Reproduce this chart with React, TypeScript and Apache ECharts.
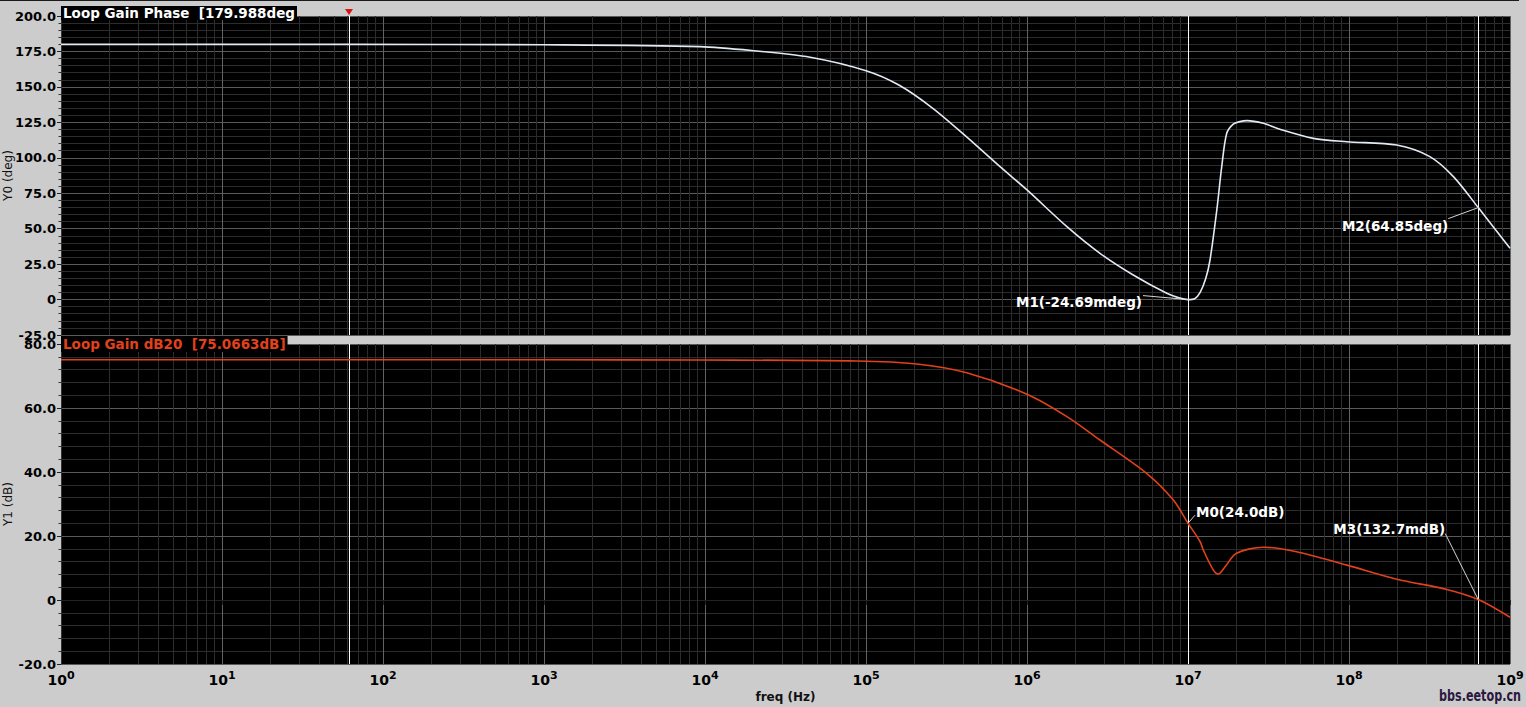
import React, { useEffect, useRef } from 'react';
import * as echarts from 'echarts';

// ---------- data ----------
const phaseFreq = [1, 61.5, 1e3, 9.3e3, 2.0e4, 4.5e4, 1.0e5, 1.6e5, 2.6e5, 4.2e5, 6.8e5, 1.0e6, 1.77e6, 2.84e6, 4.57e6, 7.38e6, 8.9e6, 1.0e7, 1.1e7, 1.19e7, 1.29e7, 1.37e7, 1.51e7, 1.62e7, 1.74e7, 1.91e7, 2.1e7, 2.32e7, 2.94e7, 3.72e7, 6.0e7, 9.7e7, 1.98e8, 3.18e8, 4.45e8, 6.35e8, 1e9];
const phaseDeg = [180.0, 179.988, 179.7, 178.4, 175.5, 170.9, 161.4, 151.3, 134.9, 114.9, 93.7, 77.3, 51.4, 32.6, 17.3, 4.4, 1.0, -0.025, 0.6, 5, 15, 27.9, 63.2, 93.7, 117.3, 123.8, 125.5, 126.2, 124.3, 120.1, 113.7, 111.3, 109, 100.8, 86.7, 64.85, 36.2];

const gainFreq = [1, 61.5, 1e3, 9.3e3, 8.75e4, 2.07e5, 4.22e5, 1.0e6, 1.77e6, 2.84e6, 5.53e6, 8.11e6, 1.0e7, 1.19e7, 1.245e7, 1.435e7, 1.54e7, 1.7e7, 2.0e7, 2.94e7, 4.73e7, 9.7e7, 1.98e8, 4.05e8, 6.35e8, 1e9];
const gainDb = [75.07, 75.0663, 75.06, 75.0, 74.7, 73.75, 71.0, 64.3, 57.3, 50.0, 39.6, 31.25, 24.0, 18.2, 15.6, 9.4, 8.1, 10.4, 14.6, 16.5, 15.1, 10.9, 6.5, 3.3, 0.1327, -5.4];

const cursorFreqs = [61.5, 1e7, 6.35e8];

const markerText = ['M0(24.0dB)', 'M1(-24.69mdeg)', 'M2(64.85deg)', 'M3(132.7mdB)'];
const markerFreq = [1e7, 1e7, 6.35e8, 6.35e8];
const markerVal = [24.0, -0.02469, 64.85, 0.1327];
const markerGrid = [1, 0, 0, 1];

const phaseLegend = 'Loop Gain Phase  [179.988deg';
const gainLegend = 'Loop Gain dB20  [75.0663dB]';

// ---------- style ----------
const FONT = 'DejaVu Sans';
const BG = '#cccccc';
const PHASE_COLOR = '#e2eaf4';
const GAIN_COLOR = '#e2411c';
const MAJOR = '#626262';
const MINOR = '#2c2c2c';

// label placement (styling offsets relative to marker point)
const markerPlace = [
  { dx: 8, dy: -4, align: 'left', va: 'bottom', lx: 7, ly: -8 },
  { dx: -46, dy: 2, align: 'right', va: 'middle', lx: -45, ly: -4 },
  { dx: -30, dy: 11, align: 'right', va: 'top', lx: -30, ly: 11 },
  { dx: -33, dy: -64, align: 'right', va: 'bottom', lx: -33, ly: -66 },
];

const minorFreqs: number[] = [];
for (let e = 0; e < 9; e++) for (let k = 2; k <= 9; k++) minorFreqs.push(k * Math.pow(10, e));

function App() {
  const ref = useRef<HTMLDivElement>(null);
  useEffect(() => {
    if (!ref.current) return;
    const chart = echarts.init(ref.current, null, { renderer: 'svg' });

    const xBase = (gi: number) => ({
      type: 'log',
      logBase: 10,
      gridIndex: gi,
      min: 1,
      max: 1e9,
      splitNumber: 9,
      splitLine: { show: true, lineStyle: { color: MAJOR, width: 1 } },
    });

    const yBase = (gi: number, min: number, max: number, interval: number, name: string) => ({
      type: 'value',
      gridIndex: gi,
      min,
      max,
      interval,
      name,
      nameLocation: 'middle',
      nameGap: 47,
      nameMoveOverlap: false,
      nameRotate: 90,
      nameTextStyle: { fontFamily: FONT, fontSize: 12, color: '#111' },
      axisLine: { show: true, lineStyle: { color: '#333', width: 1 } },
      axisTick: { show: true, inside: false, length: 4, lineStyle: { color: '#222' } },
      minorTick: { show: true, splitNumber: 5, length: 2.5, lineStyle: { color: '#333' } },
      splitLine: { show: true, lineStyle: { color: '#5a5a5a', width: 1 } },
      minorSplitLine: { show: true, lineStyle: { color: MINOR, width: 1 } },
      axisLabel: {
        margin: 5,
        fontFamily: FONT,
        fontSize: 13,
        fontWeight: 'bold',
        color: '#000',
        formatter: (v: number) => (v === 0 ? '0' : v.toFixed(1)),
      },
    });

    const minorSeries = (gi: number) => ({
      type: 'line',
      xAxisIndex: gi,
      yAxisIndex: gi,
      data: [],
      z: 1,
      silent: true,
      markLine: {
        silent: true,
        z: 1,
        symbol: ['none', 'none'],
        label: { show: false },
        animation: false,
        lineStyle: { color: MINOR, width: 1, type: 'solid' },
        emphasis: { disabled: true },
        data: minorFreqs.map((f) => ({ xAxis: f })),
      },
    });

    const cursorSeries = (gi: number) => ({
      type: 'line',
      xAxisIndex: gi,
      yAxisIndex: gi,
      data: [],
      z: 2,
      silent: true,
      markLine: {
        silent: true,
        z: 2,
        symbol: ['none', 'none'],
        label: { show: false },
        animation: false,
        lineStyle: { color: '#ffffff', width: 1, type: 'solid' },
        emphasis: { disabled: true },
        data: cursorFreqs.map((f) => ({ xAxis: f })),
      },
    });

    chart.setOption({
      animation: false,
      backgroundColor: BG,
      grid: [
        { left: 61, top: 16, width: 1449, height: 319, show: true, backgroundColor: '#000', borderWidth: 0, outerBoundsMode: 'none', containLabel: false },
        { left: 61, top: 344, width: 1449, height: 320, show: true, backgroundColor: '#000', borderWidth: 0, outerBoundsMode: 'none', containLabel: false },
      ],
      xAxis: [
        {
          ...xBase(0),
          axisLabel: { show: false },
          axisTick: { show: false },
          axisLine: { show: false },
        },
        {
          ...xBase(1),
          axisLine: { show: true, lineStyle: { color: '#222' } },
          axisTick: { show: true, length: 5, lineStyle: { color: '#222' } },
          name: 'freq (Hz)',
          nameLocation: 'middle',
          nameGap: 27,
          nameTextStyle: { fontFamily: FONT, fontSize: 12, fontWeight: 'bold', color: '#111' },
          axisLabel: {
            margin: 6,
            formatter: (v: number) => `{b|10}{s|${Math.round(Math.log10(v))}}`,
            rich: {
              b: { fontFamily: FONT, fontSize: 14, fontWeight: 'bold', color: '#000', verticalAlign: 'bottom' },
              s: { fontFamily: FONT, fontSize: 11, fontWeight: 'bold', color: '#000', verticalAlign: 'top', padding: [0, 0, 6, 0] },
            },
          },
        },
      ],
      yAxis: [yBase(0, -25, 200, 25, 'Y0 (deg)'), yBase(1, -20, 80, 20, 'Y1 (dB)')],
      series: [
        minorSeries(0),
        minorSeries(1),
        cursorSeries(0),
        cursorSeries(1),
        {
          name: 'Loop Gain Phase',
          type: 'line',
          xAxisIndex: 0,
          yAxisIndex: 0,
          z: 3,
          smooth: 0.3,
          showSymbol: false,
          silent: true,
          lineStyle: { color: PHASE_COLOR, width: 1.6 },
          data: phaseFreq.map((f, i) => [f, phaseDeg[i]]),
        },
        {
          name: 'Loop Gain dB20',
          type: 'line',
          xAxisIndex: 1,
          yAxisIndex: 1,
          z: 3,
          smooth: 0.3,
          showSymbol: false,
          silent: true,
          lineStyle: { color: GAIN_COLOR, width: 1.6 },
          data: gainFreq.map((f, i) => [f, gainDb[i]]),
        },
      ],
    });

    const toPx = (gi: number, f: number, v: number) =>
      chart.convertToPixel({ xAxisIndex: gi, yAxisIndex: gi }, [f, v]) as number[];

    const graphics: any[] = [];
    graphics.push({ type: 'rect', shape: { x: 0, y: 0, width: 1519, height: 1 }, style: { fill: '#1a1a1a' }, z: 10 });

    // legend labels
    graphics.push({
      type: 'text',
      x: 61,
      y: 6,
      z: 20,
      style: {
        text: phaseLegend,
        fill: '#ffffff',
        font: `bold 13.5px "${FONT}"`,
        backgroundColor: '#000',
        padding: [0, 2, 0, 2],
        verticalAlign: 'top',
      },
    });
    graphics.push({
      type: 'text',
      x: 61,
      y: 336,
      z: 20,
      style: {
        text: gainLegend,
        fill: GAIN_COLOR,
        font: `bold 13.5px "${FONT}"`,
        backgroundColor: '#000',
        padding: [1, 2, 1, 2],
        verticalAlign: 'top',
      },
    });

    // red cursor triangle
    const cx = toPx(0, cursorFreqs[0], 200)[0];
    graphics.push({
      type: 'polygon',
      z: 20,
      shape: { points: [[cx - 4, 9], [cx + 4, 9], [cx, 15]] },
      style: { fill: '#e01010' },
    });

    // marker labels
    markerText.forEach((t, i) => {
      const [px, py] = toPx(markerGrid[i], markerFreq[i], markerVal[i]);
      const pl = markerPlace[i];
      graphics.push({
        type: 'line',
        z: 20,
        shape: { x1: px + pl.lx, y1: py + pl.ly, x2: px, y2: py },
        style: { stroke: '#d4d4d4', lineWidth: 1 },
      });
      graphics.push({
        type: 'text',
        z: 21,
        x: px + pl.dx,
        y: py + pl.dy,
        style: {
          text: t,
          fill: '#ffffff',
          font: `bold 13.5px "${FONT}"`,
          align: pl.align,
          verticalAlign: pl.va,
        },
      });
    });

    // watermark
    graphics.push({
      type: 'text',
      x: 1521,
      y: 695,
      scaleX: 0.7,
      z: 20,
      style: {
        text: 'bbs.eetop.cn',
        fill: '#2b1840',
        font: `bold 16px "${FONT}"`,
        align: 'right',
        verticalAlign: 'middle',
      },
    });

    chart.setOption({ graphic: graphics });

    return () => chart.dispose();
  }, []);

  return (
    <div
      ref={ref}
      style={{ position: 'fixed', left: 0, top: 0, width: 1526, height: 707, background: BG }}
    />
  );
}

export default App;
